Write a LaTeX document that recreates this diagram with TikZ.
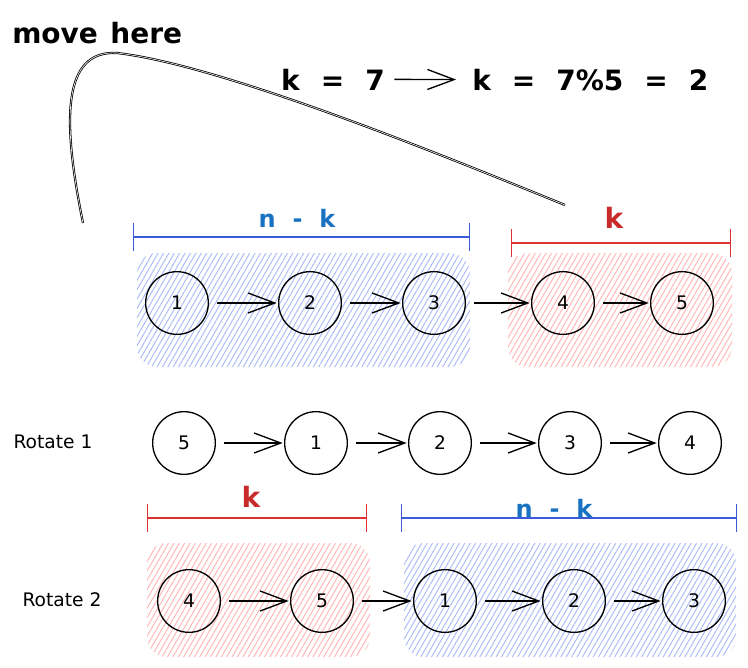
\documentclass[tikz,border=0pt]{standalone}
\usepackage{fontspec}
\newfontfamily\hand{DejaVu Sans}
\newcommand\formulafont{\hand\bfseries\fontsize{21}{24}\selectfont\spaceskip=0.75em\relax}
\newcommand\movefont{\hand\bfseries\fontsize{21}{24}\selectfont\spaceskip=0.45em\relax}
\newcommand\nkfont{\hand\bfseries\fontsize{18}{20}\selectfont\spaceskip=0.7em\relax}
\usepackage{tikz}
\usetikzlibrary{arrows.meta,patterns.meta,positioning}
\definecolor{nkline}{HTML}{3B5BDB}
\definecolor{nktext}{HTML}{1971C2}
\definecolor{nkfill}{HTML}{A9B9F5}
\definecolor{kline}{HTML}{E03131}
\definecolor{ktext}{HTML}{C92A2A}
\definecolor{kfill}{HTML}{FFB3B3}

\begin{document}
\begin{tikzpicture}[x=0.75pt, y=-0.75pt, >={Straight Barb[length=20pt,width=15pt]},
    elem/.style={circle, draw, line width=1pt, minimum size=47pt, inner sep=0pt, font=\hand\fontsize{14}{16}\selectfont},
    lbl/.style={inner sep=0pt, font=\hand\fontsize{14}{16}\selectfont},
    big/.style={inner sep=0pt, font=\formulafont},
    nklbl/.style={inner sep=0pt, text=nktext, font=\nkfont},
    klbl/.style={inner sep=0pt, text=ktext, font=\hand\bfseries\fontsize{21}{24}\selectfont},
    group/.style={rounded corners=15pt, pattern={Lines[angle=60,distance=3.5pt,line width=0.7pt]}},
    brk/.style={line width=1.3pt, {Bar[width=21pt,line width=0.9pt]}-{Bar[width=21pt,line width=0.9pt]}},
    link/.style={->, line width=1pt, shorten <=6pt, shorten >=1pt},
    curve/.style={line width=0.6pt, double=white, double distance=0.45pt}]
  \useasboundingbox (0,0) rectangle (748,667);

  \path[group, pattern color=nkfill] (137,253) rectangle (470,367);
  \path[group, pattern color=kfill] (508,253) rectangle (732,367);
  \path[group, pattern color=kfill] (147,543) rectangle (370,657);
  \path[group, pattern color=nkfill] (404,543) rectangle (736,657);

  \coordinate (nkA) at (133,237);
  \coordinate (nkB) at (470,237);
  \coordinate (kA) at (511,243);
  \coordinate (kB) at (731,243);
  \coordinate (kC) at (147,518);
  \coordinate (kD) at (367,518);
  \coordinate (nkC) at (401,518);
  \coordinate (nkD) at (737,518);
  \draw[brk, nkline] (nkA) -- (nkB);
  \draw[brk, kline] (kA) -- (kB);
  \draw[brk, kline] (kC) -- (kD);
  \draw[brk, nkline] (nkC) -- (nkD);
  \node[nklbl] (nktop) at (297,218) {n - k};
  \node[klbl] (ktop) at (614,218) {k};
  \node[klbl] (kbot) at (251,497) {k};
  \node[nklbl] (nkbot) at (554,508) {n - k};

  \node[big, font=\movefont, anchor=base west] (move) at (12,44) {move here};
  \node[big, anchor=base east] (keq) at (385,90) {k = 7};
  \node[big, anchor=base west] (kmod) at (472,90) {k = 7\%5 = 2};
  \draw[->, line width=1pt] ([xshift=7pt]keq.east) -- ([xshift=-12pt]kmod.west);

  \coordinate (curveA) at (83,223);
  \coordinate (curveB) at (565,205);
  \draw[curve] (curveA) .. controls (62,120) and (62,50) .. (117,53)
    .. controls (220,65) and (430,150) .. (curveB);

  \node[elem] (t1) at (177,303) {1};
  \node[elem] (t2) at (310,303) {2};
  \node[elem] (t3) at (434,303) {3};
  \node[elem] (t4) at (563,303) {4};
  \node[elem] (t5) at (682,303) {5};

  \node[lbl] (rot1) at (53,442) {Rotate 1};
  \node[elem] (p5) at (184,443) {5};
  \node[elem] (p1) at (316,443) {1};
  \node[elem] (p2) at (440,443) {2};
  \node[elem] (p3) at (570,443) {3};
  \node[elem] (p4) at (690,443) {4};

  \node[lbl] (rot2) at (62,600) {Rotate 2};
  \node[elem] (q4) at (189,601) {4};
  \node[elem] (q5) at (322,601) {5};
  \node[elem] (q1) at (445,601) {1};
  \node[elem] (q2) at (574,601) {2};
  \node[elem] (q3) at (694,601) {3};

  \path[link]
    (t1) edge (t2)
    (t2) edge (t3)
    (t3) edge (t4)
    (t4) edge (t5)
    (p5) edge (p1)
    (p1) edge (p2)
    (p2) edge (p3)
    (p3) edge (p4)
    (q4) edge (q5)
    (q5) edge (q1)
    (q1) edge (q2)
    (q2) edge (q3);
\end{tikzpicture}
\end{document}
